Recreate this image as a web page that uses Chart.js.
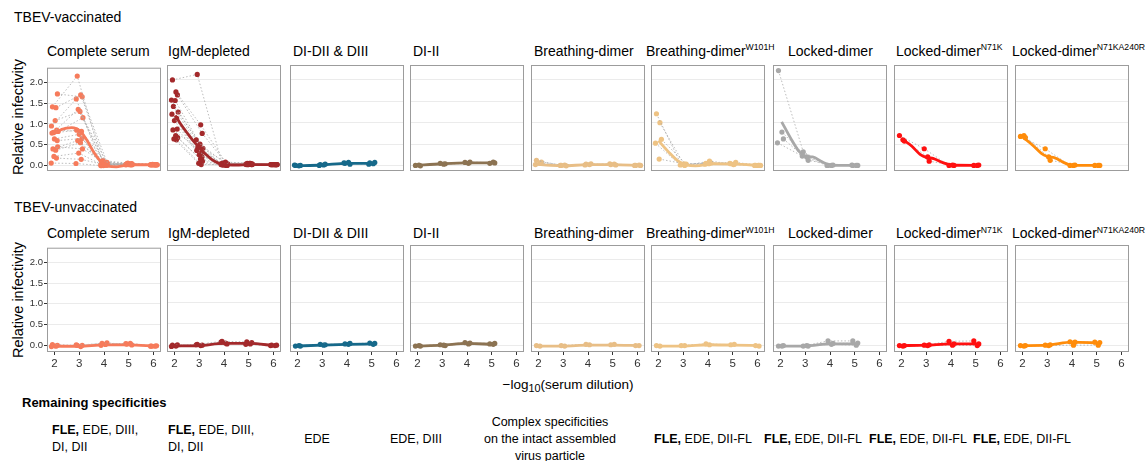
<!DOCTYPE html>
<html>
<head>
<meta charset="utf-8">
<script src="https://cdn.jsdelivr.net/npm/chart.js@4.4.1/dist/chart.umd.min.js"></script>
<style>
  html,body{margin:0;padding:0;background:#fff;}
  body{width:1146px;height:461px;position:relative;overflow:hidden;font-family:'Liberation Sans',Arial,sans-serif;color:#000;}
  .t{position:absolute;white-space:nowrap;line-height:1.15;}
  canvas{position:absolute;}
  sup{font-size:0.62em;vertical-align:0;position:relative;top:-0.6em;}
  sub{font-size:0.8em;vertical-align:0;position:relative;top:0.3em;}
</style>
</head>
<body>
<script>
// ---------------- DATA ----------------
const rowTitles = ['TBEV-vaccinated', 'TBEV-unvaccinated'];
const panelTitles = ['Complete serum', 'IgM-depleted', 'DI-DII &amp; DIII', 'DI-II', 'Breathing-dimer',
  'Breathing-dimer<sup>W101H</sup>', 'Locked-dimer', 'Locked-dimer<sup>N71K</sup>', 'Locked-dimer<sup>N71KA240R</sup>'];
const panelColors = ['#F67B5B', '#A3292B', '#16698A', '#8C7352', '#E8BE86', '#EEC384', '#A8A8A8', '#FF1010', '#FF8C0A'];
const xTickValues = [2, 3, 4, 5, 6];
const yTickValues = [0, 0.5, 1, 1.5, 2];
const dil5 = [2, 3, 4, 5, 6];
const dil4 = [2, 3, 4, 5];
const panelDilutions = [dil5, dil5, dil4, dil4, dil5, dil5, dil4, dil4, dil4];
const jitter = [-0.08, 0.06, 0.12, -0.12, 0.03, -0.04, 0.15, -0.1, 0.09, 0.0, 0.11, -0.06, 0.05, 0.13, -0.02, 0.08, -0.13];

// vaccinated: individual sera (relative infectivity per dilution)
const vacComplete = [
  [1.41, 2.15, 0.10, 0.04, 0.02], [1.39, 1.70, 0.05, 0.03, 0.02], [1.72, 1.65, 0.08, 0.05, 0.02],
  [0.95, 1.60, 0.03, 0.03, 0.02], [1.08, 1.30, 0.02, 0.02, 0.02], [0.80, 1.35, 0.12, 0.06, 0.03],
  [0.82, 1.15, 0.04, 0.03, 0.02], [0.78, 0.85, 0.00, 0.02, 0.02], [0.85, 0.82, 0.06, 0.04, 0.02],
  [0.64, 0.75, 0.02, 0.03, 0.02], [0.60, 0.65, 0.01, 0.02, 0.02], [0.40, 0.60, 0.05, 0.05, 0.02],
  [0.37, 0.55, 0.03, 0.03, 0.02], [0.45, 0.40, 0.02, 0.02, 0.02], [0.22, 0.30, 0.00, 0.04, 0.02],
  [0.18, 0.15, 0.01, 0.02, 0.02], [0.06, 0.05, 0.00, 0.02, 0.02]];
const vacIgM = [
  [2.00, 2.13, 0.05, 0.03, 0.02], [1.72, 0.95, 0.08, 0.05, 0.02], [1.65, 0.75, 0.03, 0.04, 0.02],
  [1.53, 0.60, 0.02, 0.03, 0.02], [1.52, 0.50, 0.06, 0.05, 0.02], [1.38, 0.45, 0.01, 0.02, 0.02],
  [1.25, 0.40, 0.04, 0.03, 0.02], [1.20, 0.35, 0.02, 0.02, 0.02], [1.10, 0.30, 0.00, 0.03, 0.02],
  [1.05, 0.25, 0.03, 0.04, 0.02], [0.85, 0.20, 0.01, 0.02, 0.02], [0.83, 0.40, 0.05, 0.05, 0.02],
  [0.70, 0.15, 0.02, 0.03, 0.02], [0.65, 0.10, 0.00, 0.02, 0.02], [0.62, 0.05, 0.01, 0.02, 0.02],
  [0.60, 0.02, 0.02, 0.03, 0.02]];
const vacDIDIIandDIII = [[0.00, 0.02, 0.05, 0.06], [-0.01, 0.01, 0.07, 0.04], [0.00, 0.03, 0.03, 0.07], [0.01, 0.00, 0.06, 0.03]];
const vacDIDII = [[0.00, 0.05, 0.07, 0.05], [0.01, 0.03, 0.05, 0.08], [-0.01, 0.04, 0.08, 0.06]];
const vacBreathing = [[0.12, 0.00, 0.03, 0.02, 0.00], [0.05, 0.01, 0.02, 0.03, 0.01], [0.08, -0.01, 0.04, 0.01, 0.00], [0.02, 0.00, 0.01, 0.04, 0.00]];
const vacBreathingW101H = [[1.21, 0.02, 0.05, 0.04, 0.00], [1.00, 0.00, 0.10, 0.03, 0.00], [0.61, 0.03, 0.06, 0.07, 0.00], [0.52, 0.01, 0.03, 0.05, 0.00], [0.15, 0.04, 0.04, 0.02, 0.00]];
const vacLocked = [[2.22, 0.32, 0.00, 0.00], [0.78, 0.20, 0.00, 0.00], [0.62, 0.12, 0.01, 0.00], [0.53, 0.22, 0.00, 0.01]];
const vacLockedN71K = [[0.70, 0.39, 0.00, 0.00], [0.60, 0.20, 0.01, 0.00], [0.57, 0.10, 0.00, 0.01]];
const vacLockedN71KA240R = [[0.68, 0.39, 0.00, 0.00], [0.70, 0.20, 0.00, 0.00], [0.65, 0.12, 0.01, 0.00]];

// vaccinated: smoothed fits [x, y]
const vacCompleteFit = [[1.95, 0.75], [2.3, 0.87], [2.7, 0.91], [3.05, 0.82], [3.3, 0.62], [3.6, 0.31], [3.9, 0.08], [4.2, -0.02], [4.5, -0.03], [4.8, 0.0], [5.2, 0.02], [6.05, 0.02]];
const vacIgMFit = [[2.03, 1.17], [2.25, 0.97], [2.5, 0.77], [2.75, 0.58], [3.0, 0.42], [3.25, 0.27], [3.5, 0.14], [3.75, 0.06], [4.0, 0.02], [4.5, 0.01], [5.0, 0.02], [6.05, 0.02]];
const vacDIDIIandDIIIFit = [[1.9, -0.01], [3.0, 0.01], [4.0, 0.05], [5.05, 0.05]];
const vacDIDIIFit = [[1.9, 0.0], [3.0, 0.04], [4.0, 0.06], [5.1, 0.06]];
const vacBreathingFit = [[1.9, 0.03], [2.5, 0.0], [3.0, -0.01], [4.0, 0.02], [5.0, 0.02], [6.05, 0.0]];
const vacBreathingW101HFit = [[2.0, 0.58], [2.4, 0.32], [2.8, 0.1], [3.1, 0.02], [3.5, -0.01], [4.2, 0.04], [5.1, 0.03], [6.1, 0.0]];
const vacLockedFit = [[2.05, 1.02], [2.4, 0.65], [2.75, 0.33], [3.0, 0.22], [3.3, 0.2], [3.7, 0.08], [4.0, 0.01], [4.5, 0.0], [5.05, 0.0]];
const vacLockedN71KFit = [[2.0, 0.63], [2.4, 0.46], [2.75, 0.26], [3.0, 0.19], [3.3, 0.16], [3.7, 0.06], [4.0, 0.01], [5.15, 0.0]];
const vacLockedN71KA240RFit = [[2.0, 0.67], [2.4, 0.48], [2.75, 0.29], [3.0, 0.21], [3.3, 0.18], [3.7, 0.06], [4.0, 0.0], [5.1, 0.0]];

// unvaccinated: individual sera
const unvComplete = [[0.02, 0.00, 0.05, 0.03, -0.02], [-0.02, -0.03, 0.02, 0.05, -0.02], [0.00, 0.00, 0.06, 0.01, -0.01], [-0.03, 0.01, 0.00, 0.04, -0.02]];
const unvIgM = [[0.00, 0.02, 0.09, 0.08, 0.00], [-0.02, -0.01, 0.05, 0.03, -0.01], [0.01, 0.00, 0.03, 0.06, 0.00], [-0.03, 0.01, 0.07, 0.02, -0.01]];
const unvDIDIIandDIII = [[-0.02, 0.02, 0.03, 0.05], [-0.01, 0.00, 0.02, 0.02], [-0.02, 0.01, 0.04, 0.04]];
const unvDIDII = [[-0.02, 0.01, 0.06, 0.03], [-0.01, 0.00, 0.03, 0.02], [-0.02, -0.01, 0.05, 0.04]];
const unvBreathing = [[-0.01, -0.01, 0.02, 0.01, -0.01], [-0.02, -0.02, 0.01, 0.02, -0.01]];
const unvBreathingW101H = [[-0.01, -0.01, 0.03, 0.01, -0.01], [-0.02, -0.01, 0.01, 0.02, -0.02]];
const unvLocked = [[-0.02, -0.02, 0.10, 0.10], [-0.02, -0.01, 0.02, 0.00], [-0.01, -0.02, 0.04, 0.05]];
const unvLockedN71K = [[-0.01, 0.00, 0.09, 0.10], [-0.02, -0.01, 0.00, -0.01], [-0.01, 0.01, 0.03, 0.03]];
const unvLockedN71KA240R = [[-0.01, 0.00, 0.08, 0.07], [-0.02, -0.01, 0.00, 0.00], [-0.01, 0.01, 0.07, 0.06]];

// unvaccinated: smoothed fits
const unvCompleteFit = [[1.95, -0.02], [3.0, -0.025], [4.0, 0.01], [5.0, 0.01], [6.05, -0.02]];
const unvIgMFit = [[1.95, -0.02], [3.0, -0.01], [4.0, 0.04], [5.0, 0.04], [6.05, -0.01]];
const unvDIDIIandDIIIFit = [[1.95, -0.02], [3.0, 0.0], [4.0, 0.02], [5.05, 0.03]];
const unvDIDIIFit = [[1.95, -0.02], [3.0, 0.0], [4.0, 0.04], [5.05, 0.02]];
const unvBreathingFit = [[1.95, -0.02], [3.0, -0.02], [4.0, 0.0], [5.0, 0.0], [6.05, -0.01]];
const unvBreathingW101HFit = [[1.95, -0.02], [3.0, -0.02], [4.0, 0.01], [5.0, 0.0], [6.05, -0.01]];
const unvLockedFit = [[1.95, -0.02], [3.0, -0.02], [4.0, 0.03], [5.05, 0.03]];
const unvLockedN71KFit = [[1.95, -0.01], [3.0, 0.0], [4.0, 0.03], [5.1, 0.03]];
const unvLockedN71KA240RFit = [[1.95, -0.01], [3.0, 0.0], [4.0, 0.07], [5.1, 0.05]];

const remainingSpecificities = [
  '<b>FLE,</b> EDE, DIII,<br>DI, DII', '<b>FLE,</b> EDE, DIII,<br>DI, DII', 'EDE', 'EDE, DIII',
  'Complex specificities<br>on the intact assembled<br>virus particle',
  '<b>FLE,</b> EDE, DII-FL', '<b>FLE,</b> EDE, DII-FL', '<b>FLE,</b> EDE, DII-FL', '<b>FLE,</b> EDE, DII-FL'];

const subjectsByRow = [
  [vacComplete, vacIgM, vacDIDIIandDIII, vacDIDII, vacBreathing, vacBreathingW101H, vacLocked, vacLockedN71K, vacLockedN71KA240R],
  [unvComplete, unvIgM, unvDIDIIandDIII, unvDIDII, unvBreathing, unvBreathingW101H, unvLocked, unvLockedN71K, unvLockedN71KA240R]];
const fitsByRow = [
  [vacCompleteFit, vacIgMFit, vacDIDIIandDIIIFit, vacDIDIIFit, vacBreathingFit, vacBreathingW101HFit, vacLockedFit, vacLockedN71KFit, vacLockedN71KA240RFit],
  [unvCompleteFit, unvIgMFit, unvDIDIIandDIIIFit, unvDIDIIFit, unvBreathingFit, unvBreathingW101HFit, unvLockedFit, unvLockedN71KFit, unvLockedN71KA240RFit]];

// ---------------- LAYOUT ----------------
const boxLeft = [47, 167, 290, 410, 531, 651, 773, 894, 1015];
const boxW = 115;
const boxTop = [64, 244];
const boxH = [107, 108];
const yRange = [[-0.13, 2.35], [-0.16, 2.35]];
const xRange = [1.7, 6.3];
const titleLeft = [47, 168, 293, 413, 534, 646, 788, 896, 1012];
const PADL = 36, PADR = 3, PADT = 3, PADB = 22;

Chart.defaults.font.family = "'Liberation Sans', Arial, sans-serif";

function addText(html, x, y, opts) {
  const d = document.createElement('div');
  d.className = 't';
  d.innerHTML = html;
  d.style.left = x + 'px';
  d.style.top = y + 'px';
  d.style.fontSize = (opts.size || 13) + 'px';
  if (opts.bold) d.style.fontWeight = 'bold';
  if (opts.lh) d.style.lineHeight = opts.lh + 'px';
  if (opts.align) d.style.textAlign = opts.align;
  const tx = opts.align === 'center' ? '-50%' : '0';
  d.style.transform = `translate(${tx},-50%)`;
  if (opts.rot) { d.style.transform = 'translate(-50%,-50%) rotate(-90deg)'; }
  document.body.appendChild(d);
  return d;
}

const boxPlugin = {
  id: 'panelBox',
  afterDraw(chart) {
    const a = chart.chartArea, c = chart.ctx;
    c.save();
    c.strokeStyle = '#9C9C9C';
    c.lineWidth = 1;
    c.strokeRect(a.left + 0.5, a.top + 0.5, a.right - a.left - 1, a.bottom - a.top - 1);
    c.restore();
  }
};

function makePanel(row, col) {
  const color = panelColors[col];
  const xs = panelDilutions[col];
  const subjects = subjectsByRow[row][col];
  const fit = fitsByRow[row][col];
  const cv = document.createElement('canvas');
  cv.width = boxW + PADL + PADR;
  cv.height = boxH[row] + PADT + PADB;
  cv.style.left = (boxLeft[col] - PADL) + 'px';
  cv.style.top = (boxTop[row] - PADT) + 'px';
  document.body.appendChild(cv);

  const datasets = [{
    data: fit.map(p => ({ x: p[0], y: p[1] })),
    borderColor: color, borderWidth: 2.8, pointRadius: 0,
    cubicInterpolationMode: 'monotone', order: 0
  }];
  subjects.forEach((s, i) => {
    datasets.push({
      data: s.map((y, k) => ({ x: xs[k] + jitter[i % jitter.length], y: y })),
      borderColor: '#ABABAB', borderWidth: 0.8, borderDash: [1.5, 2],
      pointRadius: 2.6, pointBackgroundColor: color, pointBorderColor: color, pointBorderWidth: 0,
      tension: 0, order: 1
    });
  });

  new Chart(cv, {
    type: 'line',
    data: { datasets },
    plugins: [boxPlugin],
    options: {
      responsive: false, animation: false, devicePixelRatio: 1,
      layout: { padding: { top: PADT, right: PADR, left: 0, bottom: 0 } },
      plugins: { legend: { display: false }, tooltip: { enabled: false } },
      scales: {
        x: {
          type: 'linear', min: xRange[0], max: xRange[1],
          afterBuildTicks: s => { s.ticks = xTickValues.map(v => ({ value: v })); },
          ticks: { display: row === 1, autoSkip: false, maxRotation: 0, font: { size: 11.5 }, color: '#333', padding: 2 },
          grid: { drawOnChartArea: false, drawTicks: row === 1, tickLength: 3, tickColor: '#333' },
          border: { display: false },
          afterFit: s => { s.height = PADB; }
        },
        y: {
          type: 'linear', min: yRange[row][0], max: yRange[row][1],
          afterBuildTicks: s => { s.ticks = yTickValues.map(v => ({ value: v })); },
          ticks: { display: col === 0, callback: v => Number(v).toFixed(1), font: { size: 9.5 }, color: '#333', padding: 1 },
          grid: { color: '#EBEBEB', lineWidth: 1, drawTicks: col === 0, tickLength: 3, tickColor: '#333' },
          border: { display: false },
          afterFit: s => { s.width = PADL; }
        }
      }
    }
  });
}

// ---------------- TEXT ----------------
addText(rowTitles[0], 14, 17, { size: 14 });
addText(rowTitles[1], 14, 207, { size: 14 });
for (let c = 0; c < 9; c++) {
  addText(panelTitles[c], titleLeft[c], 50.5, { size: 14 });
  addText(panelTitles[c], titleLeft[c], 233, { size: 14 });
}
addText('Relative infectivity', 18, 117, { size: 14.5, rot: true });
addText('Relative infectivity', 18, 300, { size: 14.5, rot: true });
addText('−log<sub>10</sub>(serum dilution)', 568, 385, { size: 13.5, align: 'center' });
addText('Remaining specificities', 22, 403, { size: 13, bold: true });

const specX = [52, 168, 317, 416, 550, 654, 764, 869, 973];
remainingSpecificities.forEach((h, i) => {
  const centered = (i === 2 || i === 3 || i === 4);
  addText(h, specX[i], 439, { size: 12.5, lh: i === 4 ? 17 : 16.6, align: centered ? 'center' : 'left' });
});

for (let r = 0; r < 2; r++) for (let c = 0; c < 9; c++) makePanel(r, c);
</script>
</body>
</html>
